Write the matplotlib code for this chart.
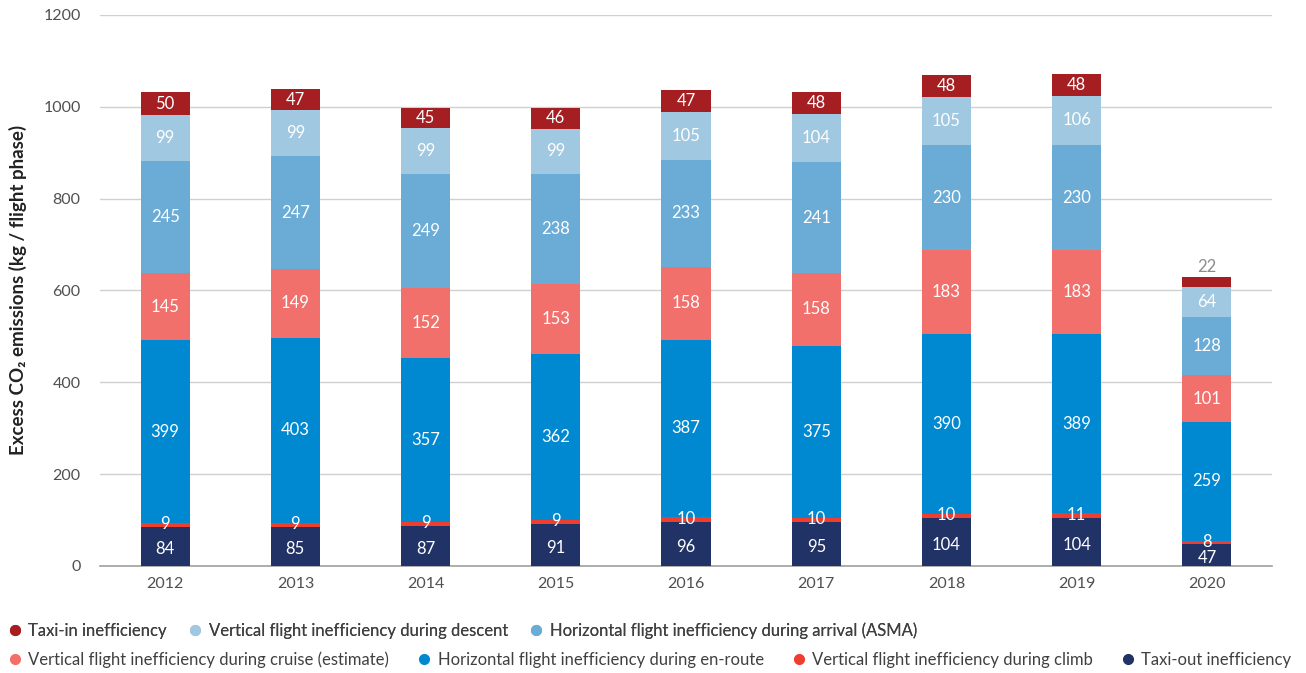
import matplotlib
matplotlib.use("Agg")
import matplotlib.pyplot as plt
from matplotlib.lines import Line2D
import numpy as np

plt.rcParams['font.family'] = ['Lato', 'DejaVu Sans']

years = ["2012", "2013", "2014", "2015", "2016", "2017", "2018", "2019", "2020"]
taxi_out = [84, 85, 87, 91, 96, 95, 104, 104, 47]
climb = [9, 9, 9, 9, 10, 10, 10, 11, 8]
en_route = [399, 403, 357, 362, 387, 375, 390, 389, 259]
cruise = [145, 149, 152, 153, 158, 158, 183, 183, 101]
asma = [245, 247, 249, 238, 233, 241, 230, 230, 128]
descent = [99, 99, 99, 99, 105, 104, 105, 106, 64]
taxi_in = [50, 47, 45, 46, 47, 48, 48, 48, 22]

series = [
    ("Taxi-out inefficiency", taxi_out, "#213366"),
    ("Vertical flight inefficiency during climb", climb, "#EF3E2D"),
    ("Horizontal flight inefficiency during en-route", en_route, "#0088D1"),
    ("Vertical flight inefficiency during cruise (estimate)", cruise, "#F2706C"),
    ("Horizontal flight inefficiency during arrival (ASMA)", asma, "#6AACD6"),
    ("Vertical flight inefficiency during descent", descent, "#A0C8E0"),
    ("Taxi-in inefficiency", taxi_in, "#A51E22"),
]

fig = plt.figure(figsize=(13.06, 6.73), dpi=100)
ax = fig.add_axes([0.0766, 0.159, 0.8974, 0.819])

x = np.arange(len(years))
bottom = np.zeros(len(years))
width = 0.377
for name, vals, col in series:
    vals = np.array(vals, dtype=float)
    ax.bar(x, vals, width, bottom=bottom, color=col, zorder=3, linewidth=0)
    for i, v in enumerate(vals):
        yc = bottom[i] + v / 2
        if name == "Taxi-in inefficiency" and years[i] == "2020":
            ax.text(x[i], bottom[i] + v + 4, f"{int(v)}", ha='center', va='bottom',
                    color='#8c8c8c', fontsize=12, zorder=4)
        elif name == "Taxi-out inefficiency":
            ax.text(x[i], yc - 6, f"{int(v)}", ha='center', va='center',
                    color='white', fontsize=12, zorder=4)
        elif name == "Vertical flight inefficiency during climb":
            ax.text(x[i], yc + 2, f"{int(v)}", ha='center', va='center',
                    color='white', fontsize=12, zorder=4)
        else:
            ax.text(x[i], yc, f"{int(v)}", ha='center', va='center',
                    color='white', fontsize=12, zorder=4)
    bottom += vals

ax.set_xlim(-0.5, len(years) - 0.5)
ax.set_ylim(0, 1200)
ax.set_yticks(range(0, 1201, 200))
ax.set_xticks(x)
ax.set_xticklabels(years)
ax.grid(axis='y', color='#d0d0d0', linewidth=1, zorder=0)
for s in ['top', 'right', 'left']:
    ax.spines[s].set_visible(False)
ax.spines['bottom'].set_color('#a0a0a0')
ax.spines['bottom'].set_linewidth(1.2)
ax.tick_params(axis='both', length=0, labelsize=11.5, labelcolor='#505050')
ax.tick_params(axis='y', pad=14)
ax.tick_params(axis='x', pad=8)
ax.set_ylabel("Excess CO\u2082 emissions (kg / flight phase)", fontsize=13.5,
              fontweight='bold', color='#222222', labelpad=12)

def handles(items):
    return [Line2D([0], [0], marker='o', linestyle='none', markersize=7,
                   markerfacecolor=c, markeredgecolor=c) for _, _, c in items]

row1 = [series[6], series[5], series[4]]
row2 = [series[3], series[2], series[1], series[0]]
leg1 = fig.legend(handles(row1), [n for n, _, _ in row1], loc='center left',
                  bbox_to_anchor=(0.0, 1 - 631 / 673), ncol=3, frameon=False,
                  fontsize=12, handletextpad=0.3, columnspacing=1.2,
                  handlelength=1.0, borderaxespad=0, labelcolor='#404040')
leg2 = fig.legend(handles(row2), [n for n, _, _ in row2], loc='center left',
                  bbox_to_anchor=(0.0, 1 - 660 / 673), ncol=4, frameon=False,
                  fontsize=12, handletextpad=0.3, columnspacing=1.6,
                  handlelength=1.0, borderaxespad=0, labelcolor='#404040')
fig.add_artist(leg1)

fig.savefig("out.png", dpi=100)
